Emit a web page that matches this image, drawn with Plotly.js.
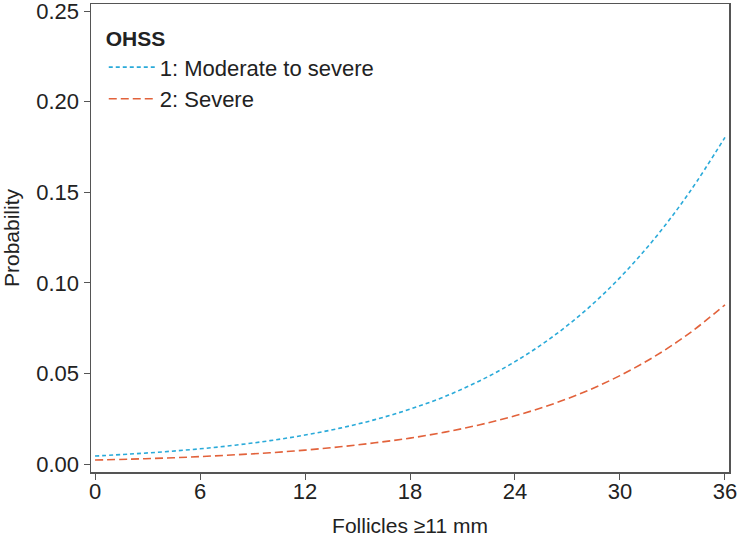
<!DOCTYPE html>
<html>
<head>
<meta charset="utf-8">
<script src="https://cdn.plot.ly/plotly-3.0.1.min.js"></script>
<style>html,body{margin:0;padding:0;background:#fff}#chart{width:739px;height:537px}</style>
</head>
<body>
<div id="chart"></div>
<script>
const follicles = [0,2,4,6,8,10,12,14,16,18,20,22,24,26,28,30,32,34,36];
const moderateToSevere = [0.0044,0.0055,0.0068,0.0084,0.0104,0.0129,0.0160,0.0198,0.0245,0.0303,0.0373,0.0460,0.0565,0.0692,0.0845,0.1029,0.1247,0.1504,0.1803];
const severe = [0.0022,0.0027,0.0033,0.0041,0.0051,0.0062,0.0077,0.0095,0.0117,0.0143,0.0176,0.0217,0.0266,0.0326,0.0399,0.0488,0.0595,0.0724,0.0879];
const seriesNames = ["1: Moderate to severe", "2: Severe"];
const xTicks = [0,6,12,18,24,30,36];
const yTicks = [0,0.05,0.10,0.15,0.20,0.25];

const font = "Liberation Sans, Arial, sans-serif";
const txt = "#222";
const traces = [
  {x: follicles, y: moderateToSevere, name: seriesNames[0], mode: "lines",
   line: {color: "#2aaad9", width: 1.6, dash: "4px,3px", shape: "spline"}},
  {x: follicles, y: severe, name: seriesNames[1], mode: "lines",
   line: {color: "#e2623b", width: 1.6, dash: "8px,4px", shape: "spline"}}
];
const layout = {
  width: 739, height: 537,
  margin: {l: 91, r: 10, t: 4, b: 65},
  paper_bgcolor: "#fff", plot_bgcolor: "#fff",
  font: {family: font, size: 21, color: txt},
  showlegend: true,
  legend: {x: 0.02, y: 0.968, xanchor: "left", yanchor: "top",
    bgcolor: "rgba(0,0,0,0)", font: {size: 22, color: txt},
    title: {text: "<b>OHSS</b>", side: "top", font: {size: 21, color: txt}},
    itemwidth: 46, tracegroupgap: 0},
  xaxis: {range: [-0.23, 36.23], tickvals: xTicks, ticktext: xTicks.map(String),
    showgrid: false, zeroline: false, showline: true, linecolor: "#555", linewidth: 1.5,
    mirror: true, ticks: "outside", ticklen: 6, tickcolor: "#555", tickwidth: 1,
    ticklabelstandoff: -7, ticklabeloverflow: "allow",
    tickfont: {size: 22, color: txt},
    title: {text: "Follicles \u226511 mm", font: {size: 21, color: txt}, standoff: 20}},
  yaxis: {range: [-0.0044, 0.2539], tickvals: yTicks, tickformat: ".2f",
    showgrid: false, zeroline: false, showline: true, linecolor: "#555", linewidth: 1.5,
    mirror: true, ticks: "outside", ticklen: 6, tickcolor: "#555", tickwidth: 1,
    ticklabeloverflow: "allow",
    tickfont: {size: 22, color: txt},
    title: {text: "Probability", font: {size: 21, color: txt}, standoff: 14}}
};
Plotly.newPlot("chart", traces, layout, {displayModeBar: false, staticPlot: true});
</script>
</body>
</html>
